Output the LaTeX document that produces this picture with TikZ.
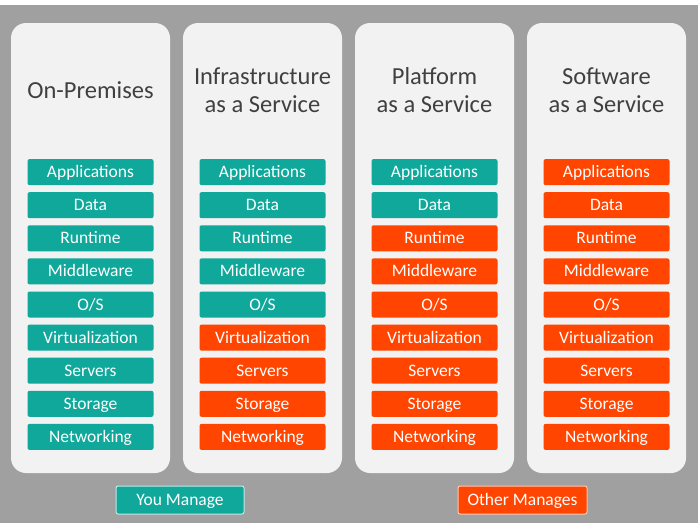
\documentclass[tikz,border=0pt]{standalone}
\usepackage{fontspec}
\setmainfont{Carlito}
\usepackage{xcolor}
\usepackage{tikz}
\definecolor{bgr}{HTML}{A0A0A0}
\definecolor{pnl}{HTML}{F2F2F2}
\definecolor{you}{HTML}{0FA89B}
\definecolor{oth}{HTML}{FF4500}
\definecolor{ttl}{HTML}{404040}
\newcommand{\layercol}[3]{%
  \foreach \lab [count=\k] in {Applications,Data,Runtime,Middleware,O/S,%
      Virtualization,Servers,Storage,Networking}{%
    \ifnum\k>#3 \def\fc{oth}\else\def\fc{you}\fi
    \node[layer,fill=\fc] (#1-\k) at (#2,{139+33.1*\k}) {\lab};}%
}

\begin{document}
\begin{tikzpicture}[x=1pt,y=-1pt,
  panel/.style={fill=pnl,rounded corners=15pt,minimum width=159pt,
    minimum height=450pt,inner sep=0pt},
  head/.style={text=ttl,align=center,font=\fontsize{24.5}{28}\selectfont},
  layer/.style={text=white,rounded corners=2pt,minimum width=126pt,
    minimum height=26pt,inner sep=0pt,text height=13.5pt,text depth=2.5pt,
    font=\fontsize{17.5}{20}\selectfont},
  key/.style={layer,line width=1pt,minimum height=28pt}]
\useasboundingbox (0,0) rectangle (698,523);
\fill[bgr] (0,5) rectangle (698,523);
% four columns, 172pt apart; third argument = rows still managed by you
\foreach \cx/\nm in {90.5/onp,262.5/iaas,434.5/paas,606.5/saas}{%
  \node[panel] (\nm) at (\cx,248) {};}
\node[head] (onp-t) at (90.5,90) {On-Premises};
\node[head] (iaas-t) at (262.5,90) {Infrastructure\\as a Service};
\node[head] (paas-t) at (434.5,90) {Platform\\as a Service};
\node[head] (saas-t) at (606.5,90) {Software\\as a Service};
\layercol{onp}{90.5}{9}
\layercol{iaas}{262.5}{5}
\layercol{paas}{434.5}{2}
\layercol{saas}{606.5}{0}
% legend
\node[key,fill=you,draw=white!75!you,minimum width=128pt] (youm) at (180,500) {You Manage};
\node[key,fill=oth,draw=white!70!oth,minimum width=129pt] (othm) at (522.5,500) {Other Manages};
\end{tikzpicture}
\end{document}
